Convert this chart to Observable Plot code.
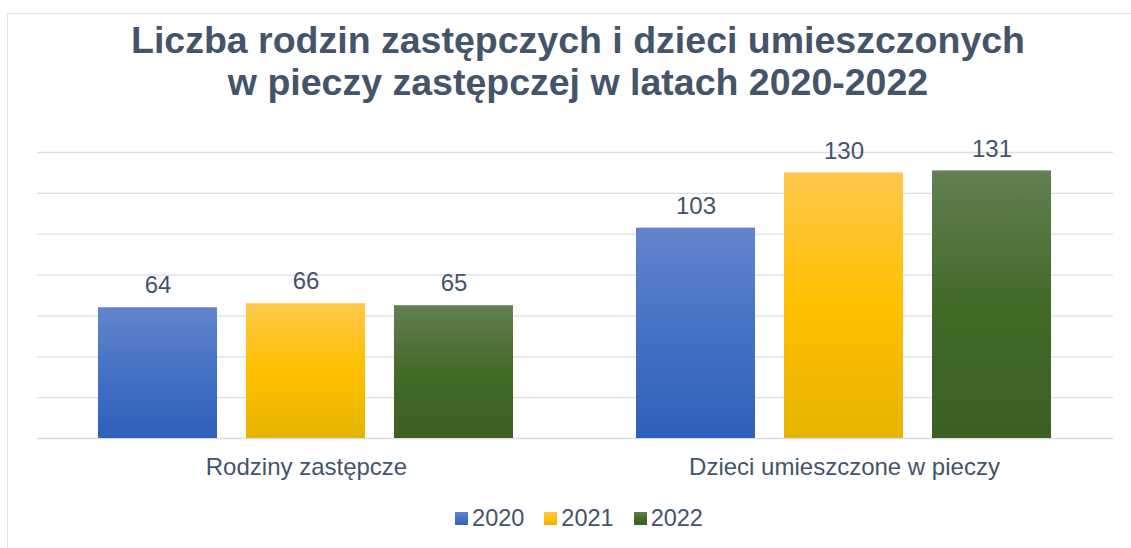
<!DOCTYPE html>
<html><head><meta charset="utf-8">
<script src="https://cdn.jsdelivr.net/npm/d3@7"></script>
<script src="https://cdn.jsdelivr.net/npm/@observablehq/plot@0.6"></script>
<style>
html,body{margin:0;padding:0;background:#fff;}
body{width:1131px;height:548px;overflow:hidden;position:relative;font-family:"Liberation Sans",Arial,sans-serif;color:#44546A;}
#frame{position:absolute;left:7px;top:13px;width:1140px;height:545px;border:1px solid #DDE1E6;box-sizing:border-box;}
#title{position:absolute;left:0;width:1156px;top:19px;text-align:center;font-weight:bold;font-size:37.5px;line-height:42px;color:#44546A;}
#chart{position:absolute;left:0;top:120px;}
#legend{position:absolute;left:0;width:1158px;top:505px;display:flex;justify-content:center;align-items:center;font-size:23.5px;line-height:26px;}
.item{display:flex;align-items:center;margin:0 10px;}
.sw{width:13px;height:13px;margin-right:4px;}
</style></head><body>
<div id="frame"></div>
<div id="title">Liczba rodzin zastępczych i dzieci umieszczonych<br>w pieczy zastępczej w latach 2020-2022</div>
<div id="chart"></div>
<div id="legend"></div>
<script>
const categories = ["Rodziny zastępcze", "Dzieci umieszczone w pieczy"];
const years = ["2020", "2021", "2022"];
const values2020 = [64, 103];
const values2021 = [66, 130];
const values2022 = [65, 131];
const yTicks = [0, 20, 40, 60, 80, 100, 120, 140];
const gradientStops = {
  "2020": ["#6384CB", "#4472C4", "#2E5FBA"],
  "2021": ["#FFC84A", "#FFC000", "#E5B500"],
  "2022": ["#637F53", "#436A27", "#3C6022"]
};
const seriesValues = {"2020": values2020, "2021": values2021, "2022": values2022};

const data = [];
categories.forEach((c, i) => years.forEach(y => data.push({cat: c, year: y, value: seriesValues[y][i]})));

const textColor = "#44546A";
const plot = Plot.plot({
  width: 1131,
  height: 370,
  marginTop: 32,
  marginBottom: 52,
  marginLeft: 37,
  marginRight: 18,
  style: {fontFamily: "'Liberation Sans', Arial, sans-serif", fontSize: "24px", color: textColor, background: "transparent"},
  fx: {domain: categories, padding: 0, label: null},
  x: {domain: years, paddingInner: 0.195, paddingOuter: 0.403, axis: null},
  y: {domain: [0, 140], axis: null},
  color: {domain: years, range: years.map(y => `url(#g${y})`)},
  marks: [
    Plot.ruleY(yTicks, {stroke: "#DADEE4", strokeWidth: 1.3}),
    Plot.barY(data, {fx: "cat", x: "year", y: "value", fill: "year"}),
    Plot.text(data, {fx: "cat", x: "year", y: "value", text: d => String(d.value), dy: -22, lineAnchor: "middle", fill: textColor, fontSize: 24}),
    Plot.axisFx({anchor: "bottom", tickSize: 0, tickPadding: 19, fontSize: 24, label: null, fill: textColor})
  ]
});

const defs = d3.select(plot).insert("defs", ":first-child");
years.forEach(y => {
  const g = defs.append("linearGradient").attr("id", "g" + y).attr("x1", 0).attr("y1", 0).attr("x2", 0).attr("y2", 1);
  gradientStops[y].forEach((col, i) => g.append("stop").attr("offset", i / 2).attr("stop-color", col));
});
document.getElementById("chart").appendChild(plot);

const legend = d3.select("#legend");
years.forEach(y => {
  const it = legend.append("div").attr("class", "item");
  it.append("div").attr("class", "sw").style("background", `linear-gradient(${gradientStops[y].join(",")})`);
  it.append("span").text(y);
});
</script>
</body></html>
